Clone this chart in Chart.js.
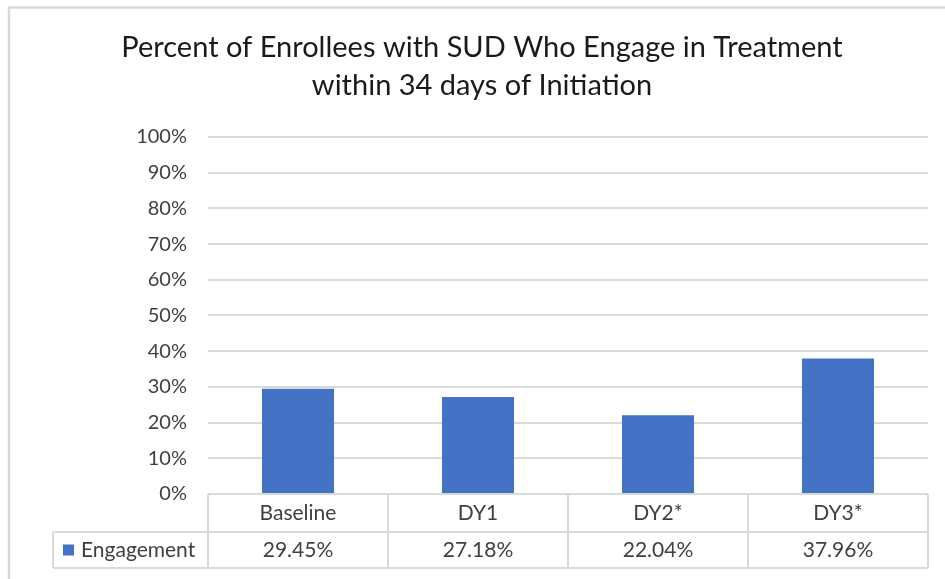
<!DOCTYPE html>
<html>
<head>
<meta charset="utf-8">
<title>SUD Engagement</title>
<script src="https://cdn.jsdelivr.net/npm/chart.js@4/dist/chart.umd.min.js"></script>
<style>
  html, body { margin: 0; padding: 0; background: #fff; }
  #wrap { width: 945px; height: 579px; position: relative; }
</style>
</head>
<body>
<div id="wrap"><canvas id="engageChart"></canvas></div>
<script>
// ---- data ----
const categories = ["Baseline", "DY1", "DY2*", "DY3*"];
const engagement = [29.45, 27.18, 22.04, 37.96];
const seriesName = "Engagement";
const titleLines = ["Percent of Enrollees with SUD Who Engage in Treatment", "within 34 days of Initiation"];

const barColor = "#4472C4";
const lineColor = "#d9d9d9";
const textColor = "#404040";

Chart.defaults.font.family = "Lato, 'Open Sans', sans-serif";

// outer frame + data table under the plot
const tablePlugin = {
  id: "dataTable",
  beforeDraw(chart) {
    const c = chart.ctx;
    c.save();
    c.fillStyle = "#fff";
    c.fillRect(0, 0, chart.width, chart.height);
    c.strokeStyle = lineColor;
    c.lineWidth = 2.5;
    c.strokeRect(9, 7.5, chart.width + 20, chart.height + 20);
    c.restore();
  },
  afterDraw(chart) {
    const c = chart.ctx;
    const xs = chart.scales.x;
    const area = chart.chartArea;
    const top = area.bottom;
    const headH = 38, rowH = 36;
    const legendLeft = 53;

    // column boundaries from the category scale
    const bounds = [area.left];
    for (let i = 1; i < categories.length; i++) {
      bounds.push((xs.getPixelForValue(i - 1) + xs.getPixelForValue(i)) / 2);
    }
    bounds.push(area.right);

    c.save();
    c.strokeStyle = lineColor;
    c.lineWidth = 2;
    c.beginPath();
    c.moveTo(area.left, top); c.lineTo(area.right, top);
    c.moveTo(legendLeft, top + headH); c.lineTo(area.right, top + headH);
    c.moveTo(legendLeft, top + headH + rowH); c.lineTo(area.right, top + headH + rowH);
    bounds.forEach(b => { c.moveTo(b, top); c.lineTo(b, top + headH + rowH); });
    c.moveTo(legendLeft, top + headH); c.lineTo(legendLeft, top + headH + rowH);
    c.stroke();

    c.fillStyle = textColor;
    c.font = "21px Lato, 'Open Sans', sans-serif";
    c.textAlign = "center";
    c.textBaseline = "middle";
    categories.forEach((cat, i) => {
      const cx = xs.getPixelForValue(i);
      c.fillText(cat, cx, top + headH / 2);
      c.fillText(engagement[i].toFixed(2) + "%", cx, top + headH + rowH / 2);
    });

    // legend key
    c.fillStyle = barColor;
    c.fillRect(legendLeft + 10, top + headH + rowH / 2 - 5.5, 11, 11);
    c.fillStyle = textColor;
    c.textAlign = "left";
    c.fillText(seriesName, legendLeft + 28, top + headH + rowH / 2);
    c.restore();
  }
};

const ctx = document.getElementById("engageChart").getContext("2d");

new Chart(ctx, {
  type: "bar",
  data: {
    labels: categories,
    datasets: [
      {
        label: seriesName,
        data: engagement,
        backgroundColor: barColor,
        barPercentage: 0.4,
        categoryPercentage: 1.0,
      },
    ],
  },
  options: {
    responsive: true,
    maintainAspectRatio: false,
    animation: false,
    layout: { padding: { left: 36, right: 17, top: 0, bottom: 85 } },
    plugins: {
      legend: { display: false },
      tooltip: { enabled: false },
      title: {
        display: true,
        text: titleLines,
        color: "#1a1a1a",
        font: { size: 29, weight: "normal", lineHeight: 1.31 },
        padding: { top: 29, bottom: 32 },
      },
    },
    scales: {
      x: {
        afterFit(scale) { scale.height = 0; },
        grid: { display: false },
        border: { display: false },
        ticks: { display: false },
      },
      y: {
        min: 0,
        max: 100,
        afterFit(scale) { scale.width = 172; },
        border: { display: false },
        grid: { color: lineColor, lineWidth: 2, drawTicks: false },
        ticks: {
          stepSize: 10,
          padding: 21,
          color: textColor,
          font: { size: 20 },
          callback: v => v + "%",
        },
      },
    },
  },
  plugins: [tablePlugin],
});
</script>
</body>
</html>
